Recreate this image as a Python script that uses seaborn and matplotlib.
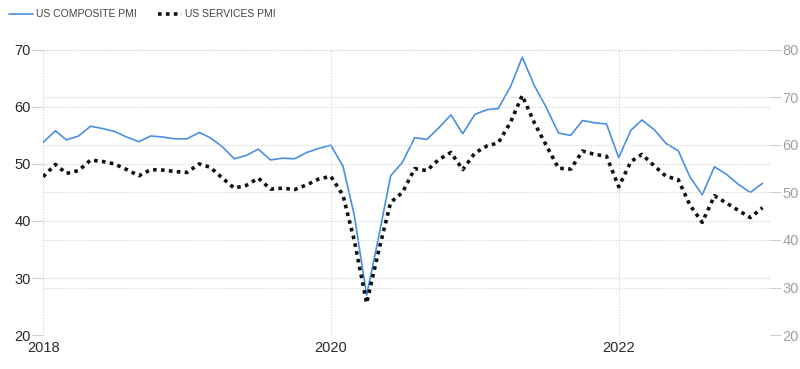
import pandas as pd
import numpy as np
import seaborn as sns
import matplotlib.pyplot as plt

# monthly readings, Jan 2018 .. Jan 2023
months = pd.date_range("2018-01-01", periods=61, freq="MS")
composite_pmi = [
    53.8, 55.8, 54.2, 54.9, 56.6, 56.2, 55.7, 54.7, 53.9, 54.9, 54.7, 54.4,
    54.4, 55.5, 54.6, 53.0, 50.9, 51.5, 52.6, 50.7, 51.0, 50.9, 52.0, 52.7,
    53.3, 49.6, 40.9, 27.0, 37.0, 47.9, 50.3, 54.6, 54.3, 56.3, 58.6, 55.3,
    58.7, 59.5, 59.7, 63.5, 68.7, 63.7, 59.9, 55.4, 55.0, 57.6, 57.2, 57.0,
    51.1, 55.9, 57.7, 56.0, 53.6, 52.3, 47.7, 44.6, 49.5, 48.2, 46.4, 45.0,
    46.6,
]
services_pmi = [
    53.3, 55.9, 54.0, 54.6, 56.8, 56.5, 56.0, 54.8, 53.5, 54.8, 54.7, 54.4,
    54.2, 56.0, 55.3, 53.0, 50.9, 51.5, 53.0, 50.7, 50.9, 50.6, 51.6, 52.8,
    53.4, 49.4, 39.8, 26.7, 37.5, 47.9, 50.0, 55.0, 54.6, 56.9, 58.4, 54.8,
    58.3, 59.8, 60.4, 64.7, 70.4, 64.6, 59.9, 55.1, 54.9, 58.7, 58.0, 57.6,
    51.2, 56.5, 58.0, 55.6, 53.4, 52.7, 47.3, 43.7, 49.3, 47.8, 46.2, 44.7,
    46.8,
]
left_ticks = [20, 30, 40, 50, 60, 70]
right_ticks = [20, 30, 40, 50, 60, 70, 80]
year_ticks = ["2018", "2020", "2022"]

df = pd.DataFrame({"date": months, "composite": composite_pmi, "services": services_pmi})

sns.set_style("white")
plt.rcParams["font.family"] = ["Liberation Sans Narrow", "Liberation Sans", "DejaVu Sans"]

fig = plt.figure(figsize=(8, 3.69), dpi=100)
ax = fig.add_axes([0.054, 0.092, 0.9085, 0.773])
ax2 = ax.twinx()

grid_kw = dict(color="#cfcfcf", linestyle=(0, (1, 1.5)), linewidth=0.8)

sns.lineplot(data=df, x="date", y="composite", ax=ax, color="#4a8fe0", linewidth=1.2,
             label="US COMPOSITE PMI", legend=False)
sns.lineplot(data=df, x="date", y="services", ax=ax2, color="#111111", linewidth=2.6,
             linestyle=(0, (1, 1.2)), label="US SERVICES PMI", legend=False)

ax.set_ylim(20, 70)
ax2.set_ylim(20, 80)
ax.set_yticks(left_ticks)
ax2.set_yticks(right_ticks)
ax.set_xlim(pd.Timestamp("2018-01-01"), pd.Timestamp("2023-01-20"))
ax.set_xticks([pd.Timestamp(f"{y}-01-01") for y in year_ticks])
ax.set_xticklabels(year_ticks)

for a in (ax, ax2):
    for s in a.spines.values():
        s.set_visible(False)
    a.set_xlabel("")
    a.set_ylabel("")

ax.yaxis.grid(True, **grid_kw)
ax.xaxis.grid(True, **grid_kw)
ax2.yaxis.grid(True, **grid_kw)
ax.set_axisbelow(True)
ax2.set_axisbelow(True)

ax.tick_params(axis="y", length=8, color="#cfcfcf", labelsize=10.5, labelcolor="#2a2a2a", pad=1)
ax.tick_params(axis="x", length=0, labelsize=10.5, labelcolor="#2a2a2a", pad=4)
ax2.tick_params(axis="y", length=8, color="#cfcfcf", labelsize=10.5, labelcolor="#a0a0a0", pad=1)

handles = ax.get_lines()[:1] + ax2.get_lines()[:1]
fig.legend(handles, [h.get_label() for h in handles], loc="upper left",
           bbox_to_anchor=(0.0, 1.0), ncol=2, frameon=False, fontsize=7.5,
           labelcolor="#444444", handlelength=2.3, columnspacing=2.0, handletextpad=0.3)

fig.savefig("out.png", dpi=100)
